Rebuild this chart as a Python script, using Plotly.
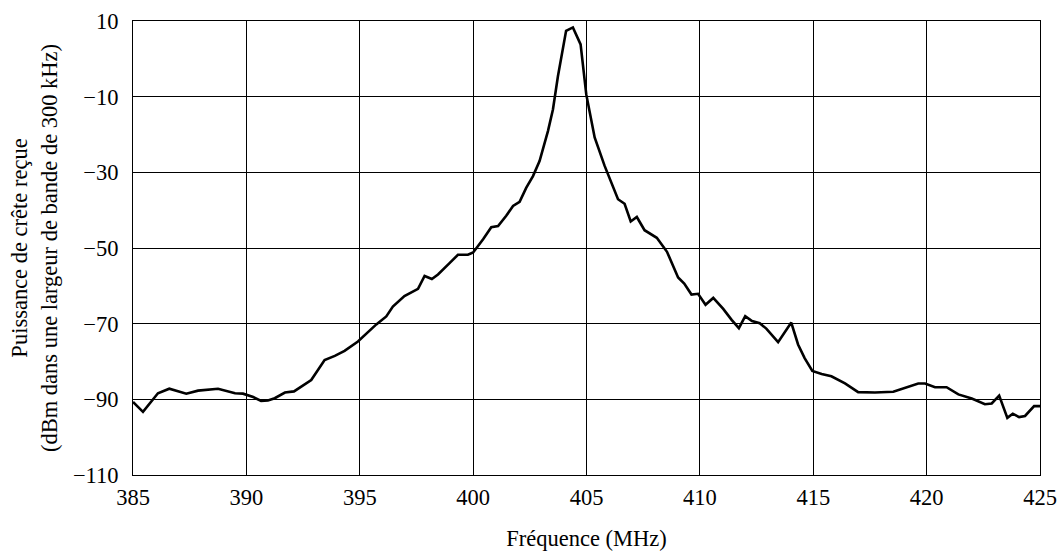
import plotly.graph_objects as go

freq_mhz = [385.0, 385.44, 386.1, 386.6, 387.35, 387.87, 388.75, 389.5, 389.85, 390.3,
            390.65, 390.95, 391.25, 391.7, 392.1, 392.86, 393.45, 393.9, 394.33, 394.92,
            395.73, 396.17, 396.46, 396.97, 397.57, 397.86, 398.18, 398.45, 398.96, 399.33,
            399.77, 400.0, 400.44, 400.8, 401.1, 401.46, 401.76, 402.05, 402.34, 402.64,
            402.93, 403.3, 403.52, 403.74, 404.1, 404.4, 404.74, 404.99, 405.36, 405.8,
            406.39, 406.68, 406.95, 407.22, 407.56, 408.1, 408.55, 409.04, 409.31, 409.63,
            409.92, 410.25, 410.59, 411.03, 411.4, 411.72, 412.0, 412.3, 412.64, 412.93,
            413.45, 414.03, 414.33, 414.62, 414.96, 415.37, 415.8, 416.4, 416.98, 417.72,
            418.53, 419.05, 419.63, 419.93, 420.37, 420.88, 421.4, 421.99, 422.57, 422.87,
            423.2, 423.56, 423.8, 424.08, 424.34, 424.74, 425.0]

power_dbm = [-90.7, -93.3, -88.4, -87.2, -88.5, -87.7, -87.2, -88.4, -88.5, -89.4,
             -90.4, -90.3, -89.7, -88.2, -87.9, -84.9, -79.6, -78.5, -77.2, -74.7,
             -70.2, -68.1, -65.5, -62.7, -60.8, -57.4, -58.2, -57.0, -54.0, -51.8,
             -51.8, -51.2, -47.7, -44.5, -44.2, -41.5, -38.9, -37.8, -34.1, -31.0,
             -27.0, -19.1, -13.4, -4.6, 7.4, 8.3, 3.8, -9.4, -20.8, -28.3,
             -37.1, -38.3, -43.0, -41.8, -45.3, -47.3, -51.0, -57.8, -59.4, -62.3,
             -62.1, -65.0, -63.2, -66.1, -69.0, -71.2, -68.0, -69.3, -69.9, -71.3,
             -74.9, -69.7, -75.5, -79.1, -82.5, -83.3, -83.9, -85.8, -88.1, -88.2,
             -88.0, -86.9, -85.8, -85.8, -86.8, -86.8, -88.7, -89.8, -91.3, -91.1,
             -89.0, -94.9, -93.8, -94.7, -94.4, -91.8, -91.8]

x_ticks = [385, 390, 395, 400, 405, 410, 415, 420, 425]
y_ticks = [10, -10, -30, -50, -70, -90, -110]
y_tick_labels = ["10", "\u221210", "\u221230", "\u221250", "\u221270", "\u221290", "\u2212110"]

FONT = "Liberation Serif, Times New Roman, serif"
FS = 22.5

fig = go.Figure()
fig.add_trace(go.Scatter(x=freq_mhz, y=power_dbm, mode="lines",
                         line=dict(color="black", width=2.6), showlegend=False))

fig.update_layout(
    width=1059, height=551,
    margin=dict(l=133, r=19, t=21, b=76),
    paper_bgcolor="white", plot_bgcolor="white",
    font=dict(family=FONT, size=FS, color="black"),
)
fig.update_xaxes(
    range=[385, 425], tickvals=x_ticks, ticktext=[str(v) for v in x_ticks],
    showgrid=True, gridcolor="black", gridwidth=1,
    showline=True, linecolor="black", linewidth=1, mirror=True,
    ticks="outside", ticklen=2, tickcolor="rgba(0,0,0,0)", zeroline=False,
    automargin=False, tickfont=dict(size=FS),
    title=dict(text="Fréquence (MHz)", standoff=26, font=dict(size=FS)),
)
fig.update_yaxes(
    range=[-110, 10], tickvals=y_ticks, ticktext=y_tick_labels,
    showgrid=True, gridcolor="black", gridwidth=1,
    showline=True, linecolor="black", linewidth=1, mirror=True,
    ticks="outside", ticklen=9, tickcolor="rgba(0,0,0,0)", zeroline=False,
    automargin=False, tickfont=dict(size=FS),
    title=dict(text="Puissance de crête reçue<br>(dBm dans une largeur de bande de 300 kHz)",
               standoff=9, font=dict(size=FS)),
)

fig.write_html(
    "out.html",
    config={"displayModeBar": False},
    post_script="document.body.style.margin='0';document.body.style.overflow='hidden';",
)
